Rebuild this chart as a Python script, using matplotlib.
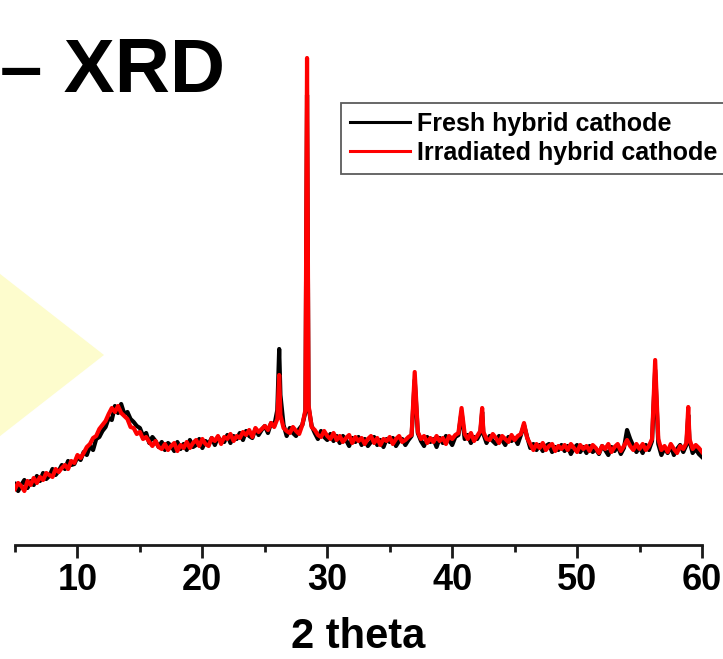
import numpy as np
import matplotlib
matplotlib.use("Agg")
import matplotlib.pyplot as plt
from matplotlib.patches import Polygon
from matplotlib.ticker import MultipleLocator

# scan grid, 0.25 deg steps from 5 to 60
two_theta = np.arange(5.0, 60.001, 0.25)

fresh = [
    610, 540, 600, 650, 570, 640, 600, 690,
    640, 720, 660, 690, 760, 700, 740, 800,
    760, 840, 800, 810, 880, 850, 930, 900,
    990, 950, 1060, 1080, 1140, 1180, 1270, 1250,
    1390, 1320, 1410, 1310, 1330, 1260, 1230, 1190,
    1170, 1090, 1120, 1020, 1080, 1040, 980, 1030,
    950, 1020, 990, 940, 1030, 960, 1010, 950,
    1050, 980, 1000, 1060, 970, 1040, 1010, 1070,
    1000, 1080, 1040, 1030, 1100, 1020, 1090, 1060,
    1120, 1050, 1140, 1090, 1070, 1160, 1100, 1150,
    1190, 1120, 1220, 1190, 1350, 1500, 1200, 1090,
    1170, 1120, 1090, 1160, 1200, 1330, 1380, 1190,
    1120, 1060, 1140, 1080, 1050, 1110, 1040, 1090,
    1020, 1090, 1050, 990, 1070, 1030, 1080, 1000,
    1060, 990, 1030, 1080, 1000, 1050, 980, 1060,
    1030, 1070, 990, 1040, 1060, 1000, 1050, 1090,
    1650, 1120, 1040, 990, 1080, 1030, 1060, 980,
    1070, 1020, 1090, 1050, 1000, 1080, 1100, 1330,
    1060, 1100, 1020, 1080, 1060, 1120, 1110, 1020,
    1090, 1040, 1010, 1090, 1050, 1000, 1080, 1040,
    1070, 1010, 1100, 1200, 1080, 970, 1010, 950,
    1000, 940, 990, 1010, 930, 980, 950, 1000,
    940, 990, 910, 970, 1000, 930, 980, 920,
    990, 930, 960, 910, 990, 950, 900, 980,
    940, 990, 910, 970, 1150, 1060, 990, 930,
    980, 920, 1000, 950, 1040, 1750, 1010, 900,
    970, 920, 990, 900, 960, 1000, 930, 1000,
    1040, 920, 960, 910, 880,
]

irradiated = [
    560, 620, 590, 540, 640, 600, 670, 620,
    680, 650, 720, 700, 680, 760, 730, 770,
    800, 760, 840, 820, 900, 870, 920, 980,
    1010, 1070, 1090, 1160, 1200, 1240, 1310, 1370,
    1330, 1390, 1320, 1290, 1260, 1180, 1170, 1110,
    1130, 1060, 1080, 1030, 990, 1040, 980, 960,
    1010, 950, 990, 1020, 940, 1000, 970, 1030,
    970, 1020, 1050, 990, 1060, 1010, 990, 1070,
    1040, 1090, 1010, 1080, 1060, 1110, 1040, 1090,
    1070, 1130, 1100, 1150, 1080, 1170, 1130, 1160,
    1190, 1150, 1220, 1180, 1260, 1300, 1170, 1140,
    1120, 1180, 1140, 1110, 1200, 1350, 1400, 1180,
    1150, 1100, 1080, 1140, 1090, 1060, 1120, 1050,
    1090, 1030, 1070, 1100, 1020, 1080, 1040, 1070,
    1010, 1060, 1090, 1020, 1070, 1000, 1060, 1040,
    1080, 1010, 1060, 1090, 1030, 1050, 1080, 1100,
    1730, 1130, 1060, 1090, 1020, 1070, 1030, 1090,
    1040, 1070, 1010, 1090, 1060, 1100, 1120, 1370,
    1110, 1060, 1120, 1040, 1090, 1140, 1130, 1060,
    1050, 1110, 1070, 1020, 1090, 1060, 1030, 1100,
    1050, 1090, 1110, 1220, 1070, 1010, 950, 1010,
    970, 1020, 950, 990, 1010, 940, 990, 960,
    1000, 950, 1010, 970, 930, 1000, 960, 990,
    940, 1000, 970, 920, 990, 960, 1010, 930,
    980, 1010, 940, 990, 1050, 990, 950, 1010,
    960, 1010, 950, 990, 1060, 1850, 1060, 950,
    990, 930, 1010, 960, 920, 990, 960, 1020,
    1060, 960, 1000, 970, 930,
]

# sharp reflections that fall between grid points
peak_theta = [26.15, 28.38, 42.4, 58.9]
peak_fresh = [1960, 4500, 1330, 1300]
peak_irradiated = [1700, 4870, 1370, 1380]


def with_peaks(base, peaks):
    x = np.concatenate([two_theta, peak_theta])
    y = np.concatenate([base, peaks])
    order = np.argsort(x)
    return x[order], y[order]


font = ['Liberation Sans', 'DejaVu Sans']

fig = plt.figure(figsize=(7.23, 6.59), dpi=100)
W, H = 723, 659

# pale yellow arrow from the slide background
tri = Polygon([(-5 / W, 1 - 270 / H), (104 / W, 1 - 355 / H), (-5 / W, 1 - 440 / H)],
              closed=True, transform=fig.transFigure, facecolor='#FDFCCD',
              edgecolor='none', zorder=0)
fig.patches.append(tri)

fig.text(0, 1 - 92 / H, '\u2013 XRD', fontsize=55, fontweight='bold',
         family=font, va='baseline', ha='left')

ax = fig.add_axes([15 / W, 114 / H, 687 / W, 1 - 114 / H])
ax.patch.set_alpha(0)

x1, y1 = with_peaks(fresh, peak_fresh)
x2, y2 = with_peaks(irradiated, peak_irradiated)
l1, = ax.plot(x1, y1, color='black', lw=3.0, label='Fresh hybrid cathode')
l2, = ax.plot(x2, y2, color='#FF0000', lw=3.0, label='Irradiated hybrid cathode')

ax.set_xlim(5, 60)
ax.set_ylim(0, 5450)
for s in ['left', 'right', 'top']:
    ax.spines[s].set_visible(False)
ax.spines['bottom'].set_linewidth(2)
ax.spines['bottom'].set_color('#1a1a1a')
ax.set_yticks([])
ax.xaxis.set_major_locator(MultipleLocator(10))
ax.xaxis.set_minor_locator(MultipleLocator(5))
ax.tick_params(axis='x', which='major', length=9, width=2, color='#1a1a1a',
               direction='out', pad=4)
ax.tick_params(axis='x', which='minor', length=5, width=2, color='#1a1a1a',
               direction='out')
for lab in ax.get_xticklabels():
    lab.set_fontsize(26)
    lab.set_fontweight('bold')
    lab.set_family(font)

ax.set_xlabel('2 theta', fontsize=30, fontweight='bold', family=font, labelpad=14)

leg = ax.legend(handles=[l1, l2], loc='upper left',
                bbox_to_anchor=(341 / W, 1 - 103 / H), bbox_transform=fig.transFigure,
                prop={'family': font, 'weight': 'bold', 'size': 18},
                frameon=True, fancybox=False, edgecolor='#333333', borderpad=0.35,
                borderaxespad=0, handlelength=2.4, handletextpad=0.3,
                labelspacing=0.2)
leg.get_frame().set_linewidth(1.3)
for h in leg.legend_handles:
    h.set_linewidth(2.2)

fig.savefig('out.png', dpi=100)
